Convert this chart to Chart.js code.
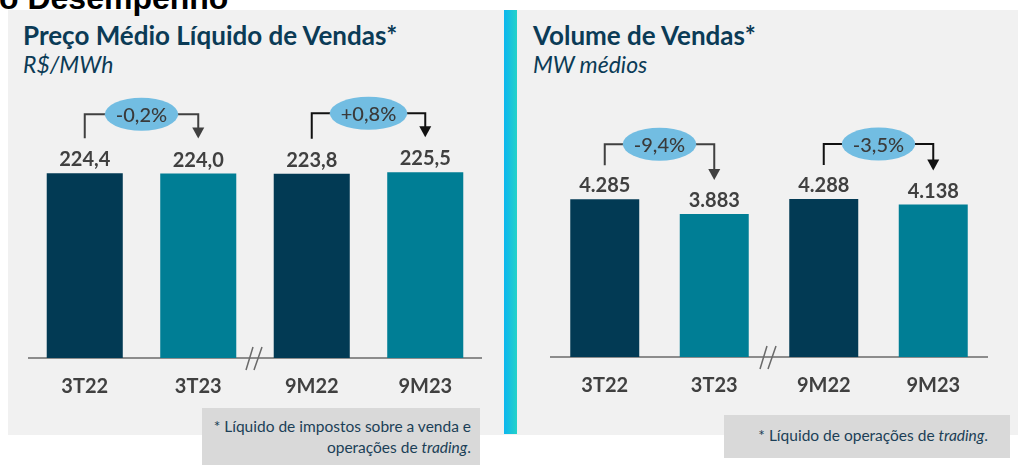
<!DOCTYPE html>
<html lang="pt-BR">
<head>
<meta charset="utf-8">
<script src="https://cdn.jsdelivr.net/npm/chart.js@4.4.0/dist/chart.umd.min.js"></script>
<style>
    body { margin: 0; width: 1018px; height: 465px; background: #fff; position: relative; overflow: hidden; font-family: Lato, sans-serif; }
    .heading { position: absolute; left: -1px; top: -18px; font: bold 32px/32px 'Liberation Sans', Arial, sans-serif; color: #000; z-index: 5; white-space: nowrap; }
    .panel { position: absolute; left: 8px; top: 10px; width: 1010px; height: 425px; background: #f1f1f1; }
    .sep { position: absolute; left: 504px; top: 10px; width: 13px; height: 424px; background: linear-gradient(to right, #0cb6ef, #24d2c9); }
    .title { position: absolute; font: bold 26px/26px Lato, sans-serif; color: #0b3b56; white-space: nowrap; }
    .sub { position: absolute; font: italic 23px/23px Lato, sans-serif; color: #0b3b56; white-space: nowrap; }
    .note { position: absolute; background: #d9d9d9; color: #1b3f57; font: 15.5px/21px Lato, sans-serif; text-align: right; box-sizing: border-box; }
    canvas { position: absolute; }
</style>
</head>
<body>
<div class="panel"></div>
<div class="sep"></div>
<div class="heading">o Desempenho</div>

<div class="title" style="left:23px; top:22px;">Preço Médio Líquido de Vendas*</div>
<div class="sub" style="left:23px; top:53px;">R$/MWh</div>
<div class="title" style="left:533px; top:22px;">Volume de Vendas*</div>
<div class="sub" style="left:533px; top:53px;">MW médios</div>

<canvas id="preco-chart" width="454" height="318" style="left:28px; top:80px;"></canvas>
<canvas id="volume-chart" width="438" height="297" style="left:550px; top:100px;"></canvas>

<div class="note" style="left:202px; top:408px; width:278px; height:57px; padding:8px 9px 0 0;">* Líquido de impostos sobre a venda e<br>operações de <i>trading</i>.</div>
<div class="note" style="left:724px; top:415px; width:286px; height:43px; padding:10px 22px 0 0;">* Líquido de operações de <i>trading</i>.</div>

<script>
const categories = ['3T22', '3T23', '9M22', '9M23'];
const precoValues = [224.4, 224.0, 223.8, 225.5];
const volumeValues = [4285, 3883, 4288, 4138];
const precoChanges = ['-0,2%', '+0,8%'];
const volumeChanges = ['-9,4%', '-3,5%'];

const dark = '#023a54';
const teal = '#007e95';

function fmtPreco(v) {
    return v.toFixed(1).replace('.', ',');
}
function fmtVolume(v) {
    const s = String(Math.round(v));
    return s.replace(/\B(?=(\d{3})+(?!\d))/g, '.');
}

// value labels above each bar
const valueLabels = {
    id: 'valueLabels',
    afterDatasetsDraw(chart, args, opts) {
        const ctx = chart.ctx;
        const bars = chart.getDatasetMeta(0).data;
        const values = chart.data.datasets[0].data;
        ctx.save();
        ctx.font = 'bold 20px Lato';
        ctx.fillStyle = '#404040';
        ctx.textAlign = 'center';
        ctx.textBaseline = 'alphabetic';
        bars.forEach((bar, i) => {
            ctx.fillText(opts.format(values[i]), bar.x, bar.y - 7);
        });
        ctx.restore();
    }
};

// bracket arrows with the % change bubble
const brackets = {
    id: 'brackets',
    afterDatasetsDraw(chart, args, opts) {
        const ctx = chart.ctx;
        const bars = chart.getDatasetMeta(0).data;
        opts.pairs.forEach((p) => {
            const a = bars[p.from];
            const b = bars[p.to];
            const yLine = Math.min(a.y, b.y) - opts.rise;
            const ya = a.y - opts.gap;
            const yb = b.y - opts.gap;
            const mid = (a.x + b.x) / 2;
            ctx.save();
            ctx.strokeStyle = p.color;
            ctx.fillStyle = p.color;
            ctx.lineWidth = 2;
            ctx.beginPath();
            ctx.moveTo(a.x, ya);
            ctx.lineTo(a.x, yLine);
            ctx.lineTo(b.x, yLine);
            ctx.lineTo(b.x, yb - 10);
            ctx.stroke();
            ctx.beginPath();
            ctx.moveTo(b.x - 6, yb - 11);
            ctx.lineTo(b.x + 6, yb - 11);
            ctx.lineTo(b.x, yb);
            ctx.closePath();
            ctx.fill();

            ctx.font = '500 20px Lato';
            const w = ctx.measureText(p.label).width;
            ctx.fillStyle = '#72bde2';
            ctx.beginPath();
            ctx.ellipse(mid, yLine, w / 2 + 11, opts.ry, 0, 0, Math.PI * 2);
            ctx.fill();
            ctx.fillStyle = '#3a3a3a';
            ctx.textAlign = 'center';
            ctx.textBaseline = 'middle';
            ctx.fillText(p.label, mid, yLine + 1);
            ctx.restore();
        });
    }
};

// "//" break between quarter and nine-month bars
const axisBreak = {
    id: 'axisBreak',
    afterDraw(chart) {
        const ctx = chart.ctx;
        const bars = chart.getDatasetMeta(0).data;
        const cx = (bars[1].x + bars[2].x) / 2;
        const base = chart.chartArea.bottom;
        ctx.save();
        ctx.strokeStyle = '#6a6a6a';
        ctx.lineWidth = 1.5;
        ctx.beginPath();
        ctx.moveTo(cx - 9, base + 12);
        ctx.lineTo(cx - 2, base - 11);
        ctx.moveTo(cx - 1, base + 12);
        ctx.lineTo(cx + 7, base - 11);
        ctx.stroke();
        ctx.restore();
    }
};

function makeChart(id, values, max, barPct, padTop, format, changes, rise, gap) {
    return new Chart(document.getElementById(id).getContext('2d'), {
        type: 'bar',
        data: {
            labels: categories,
            datasets: [{
                data: values,
                backgroundColor: [dark, teal, dark, teal],
                barPercentage: barPct,
                categoryPercentage: 1
            }]
        },
        options: {
            responsive: false,
            animation: false,
            layout: { padding: { top: padTop, left: 0, right: 0, bottom: 0 } },
            scales: {
                x: {
                    grid: { display: false },
                    border: { color: '#8c8c8c', width: 2 },
                    ticks: { color: '#404040', font: { family: 'Lato', size: 20, weight: 'bold' }, padding: 9 },
                    afterFit: (s) => { s.height = 40; }
                },
                y: { display: false, min: 0, max: max }
            },
            plugins: {
                legend: { display: false },
                tooltip: { enabled: false },
                valueLabels: { format: format },
                brackets: {
                    rise: rise,
                    gap: gap,
                    ry: 16.5,
                    pairs: [
                        { from: 0, to: 1, label: changes[0], color: '#404040' },
                        { from: 2, to: 3, label: changes[1], color: '#111111' }
                    ]
                }
            }
        },
        plugins: [valueLabels, brackets, axisBreak]
    });
}

makeChart('preco-chart', precoValues, 300, 0.67, 31, fmtPreco, precoChanges, 59, 35);
makeChart('volume-chart', volumeValues, 6000, 0.63, 36, fmtVolume, volumeChanges, 55, 34);
</script>
</body>
</html>
